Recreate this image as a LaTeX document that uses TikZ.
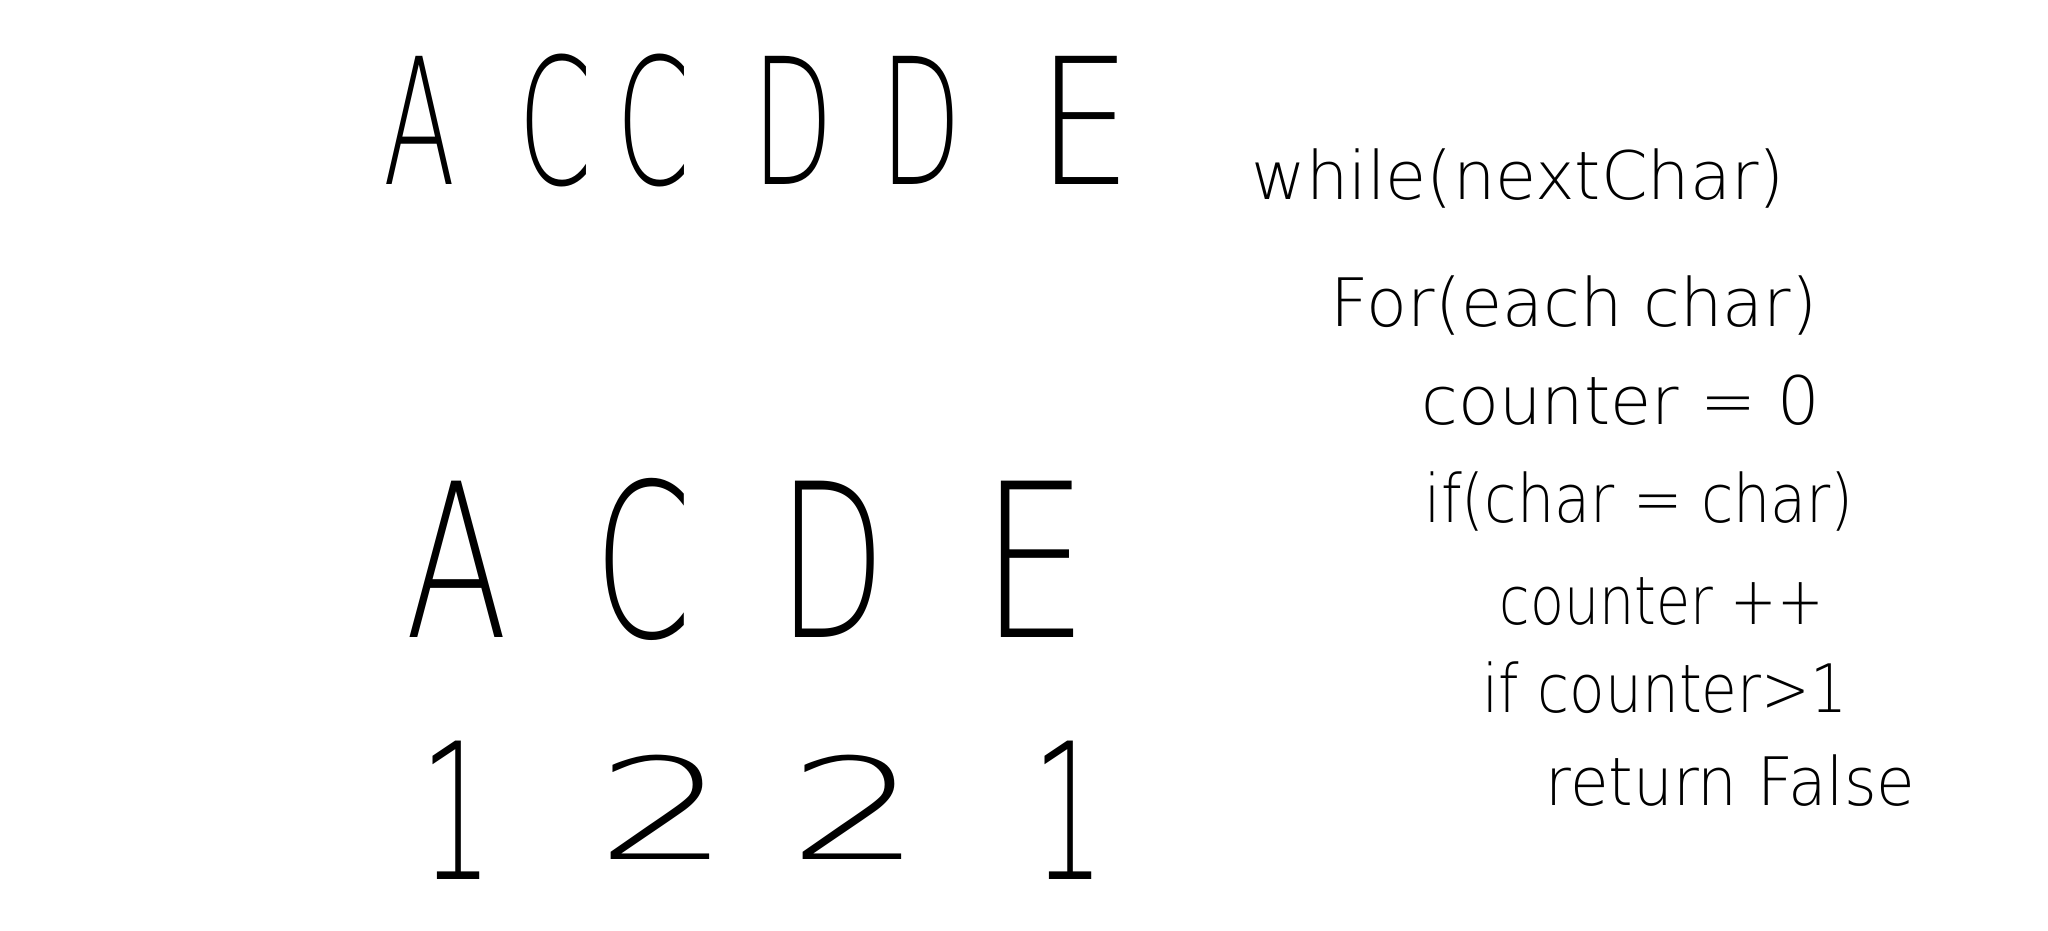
\documentclass[tikz,border=0pt]{standalone}
\usepackage{fontspec}
\usepackage{graphicx}
\setmainfont{DejaVu Sans ExtraLight}
\usetikzlibrary{positioning}

\newcommand{\slim}[1]{\scalebox{0.6}[1]{#1}}

\begin{document}
\begin{tikzpicture}[x=0.01cm, y=-0.01cm, node distance=1.3cm]
    \tikzstyle{letter} = [font=\fontsize{50}{50}\selectfont, inner sep=0pt]
    \tikzstyle{uniq} = [font=\fontsize{61}{61}\selectfont, inner sep=0pt]
    \tikzstyle{one} = [font=\fontsize{54}{54}\selectfont, inner sep=0pt]
    \tikzstyle{two} = [font=\fontsize{40}{40}\selectfont, inner sep=0pt]
    \tikzstyle{code} = [font=\fontsize{19}{19}\selectfont, anchor=base west, inner sep=0pt]

    \useasboundingbox (0,0) rectangle (2048,930);

    % Input string
    \node [letter] (in1) at (420,120) {\slim{A}};
    \node [letter, right of=in1, node distance=1.35cm] (in2) {\slim{C}};
    \node [letter, right of=in2, node distance=0.98cm] (in3) {\slim{C}};
    \node [letter, right of=in3, node distance=1.40cm] (in4) {\slim{D}};
    \node [letter, right of=in4, node distance=1.28cm] (in5) {\slim{D}};
    \node [letter, right of=in5, node distance=1.63cm] (in6) {\scalebox{0.85}[1]{E}};

    % Distinct characters
    \node [uniq] (u1) at (457,559) {\scalebox{0.7}[1]{A}};
    \node [uniq, right of=u1, node distance=1.86cm] (u2) {\scalebox{0.65}[1]{C}};
    \node [uniq, right of=u2, node distance=1.89cm] (u3) {\scalebox{0.65}[1]{D}};
    \node [uniq, right of=u3, node distance=2.02cm] (u4) {\scalebox{0.8}[1]{E}};

    % Counts
    \node [one] (n1) at (457,810) {\slim{1}};
    \node [two, right of=n1, node distance=2.06cm, yshift=0.03cm] (n2) {\scalebox{1.5}[1]{2}};
    \node [two, right of=n2, node distance=1.92cm] (n3) {\scalebox{1.5}[1]{2}};
    \node [one, right of=n1, node distance=6.11cm] (n4) {\slim{1}};

    % Pseudocode
    \node [code] (l1) at (1251,199) {while(nextChar)};
    \node [code] (l2) at (1330,326) {For(each char)};
    \node [code] (l3) at (1421,424) {counter = 0};
    \node [code] (l4) at (1424,522) {\scalebox{0.88}[1]{if(char = char)}};
    \node [code] (l5) at (1499,624) {\scalebox{0.83}[1]{counter ++}};
    \node [code] (l6) at (1482,712) {\scalebox{0.87}[1]{if counter>1}};
    \node [code] (l7) at (1545,805) {\scalebox{0.94}[1]{return False}};
\end{tikzpicture}
\end{document}
